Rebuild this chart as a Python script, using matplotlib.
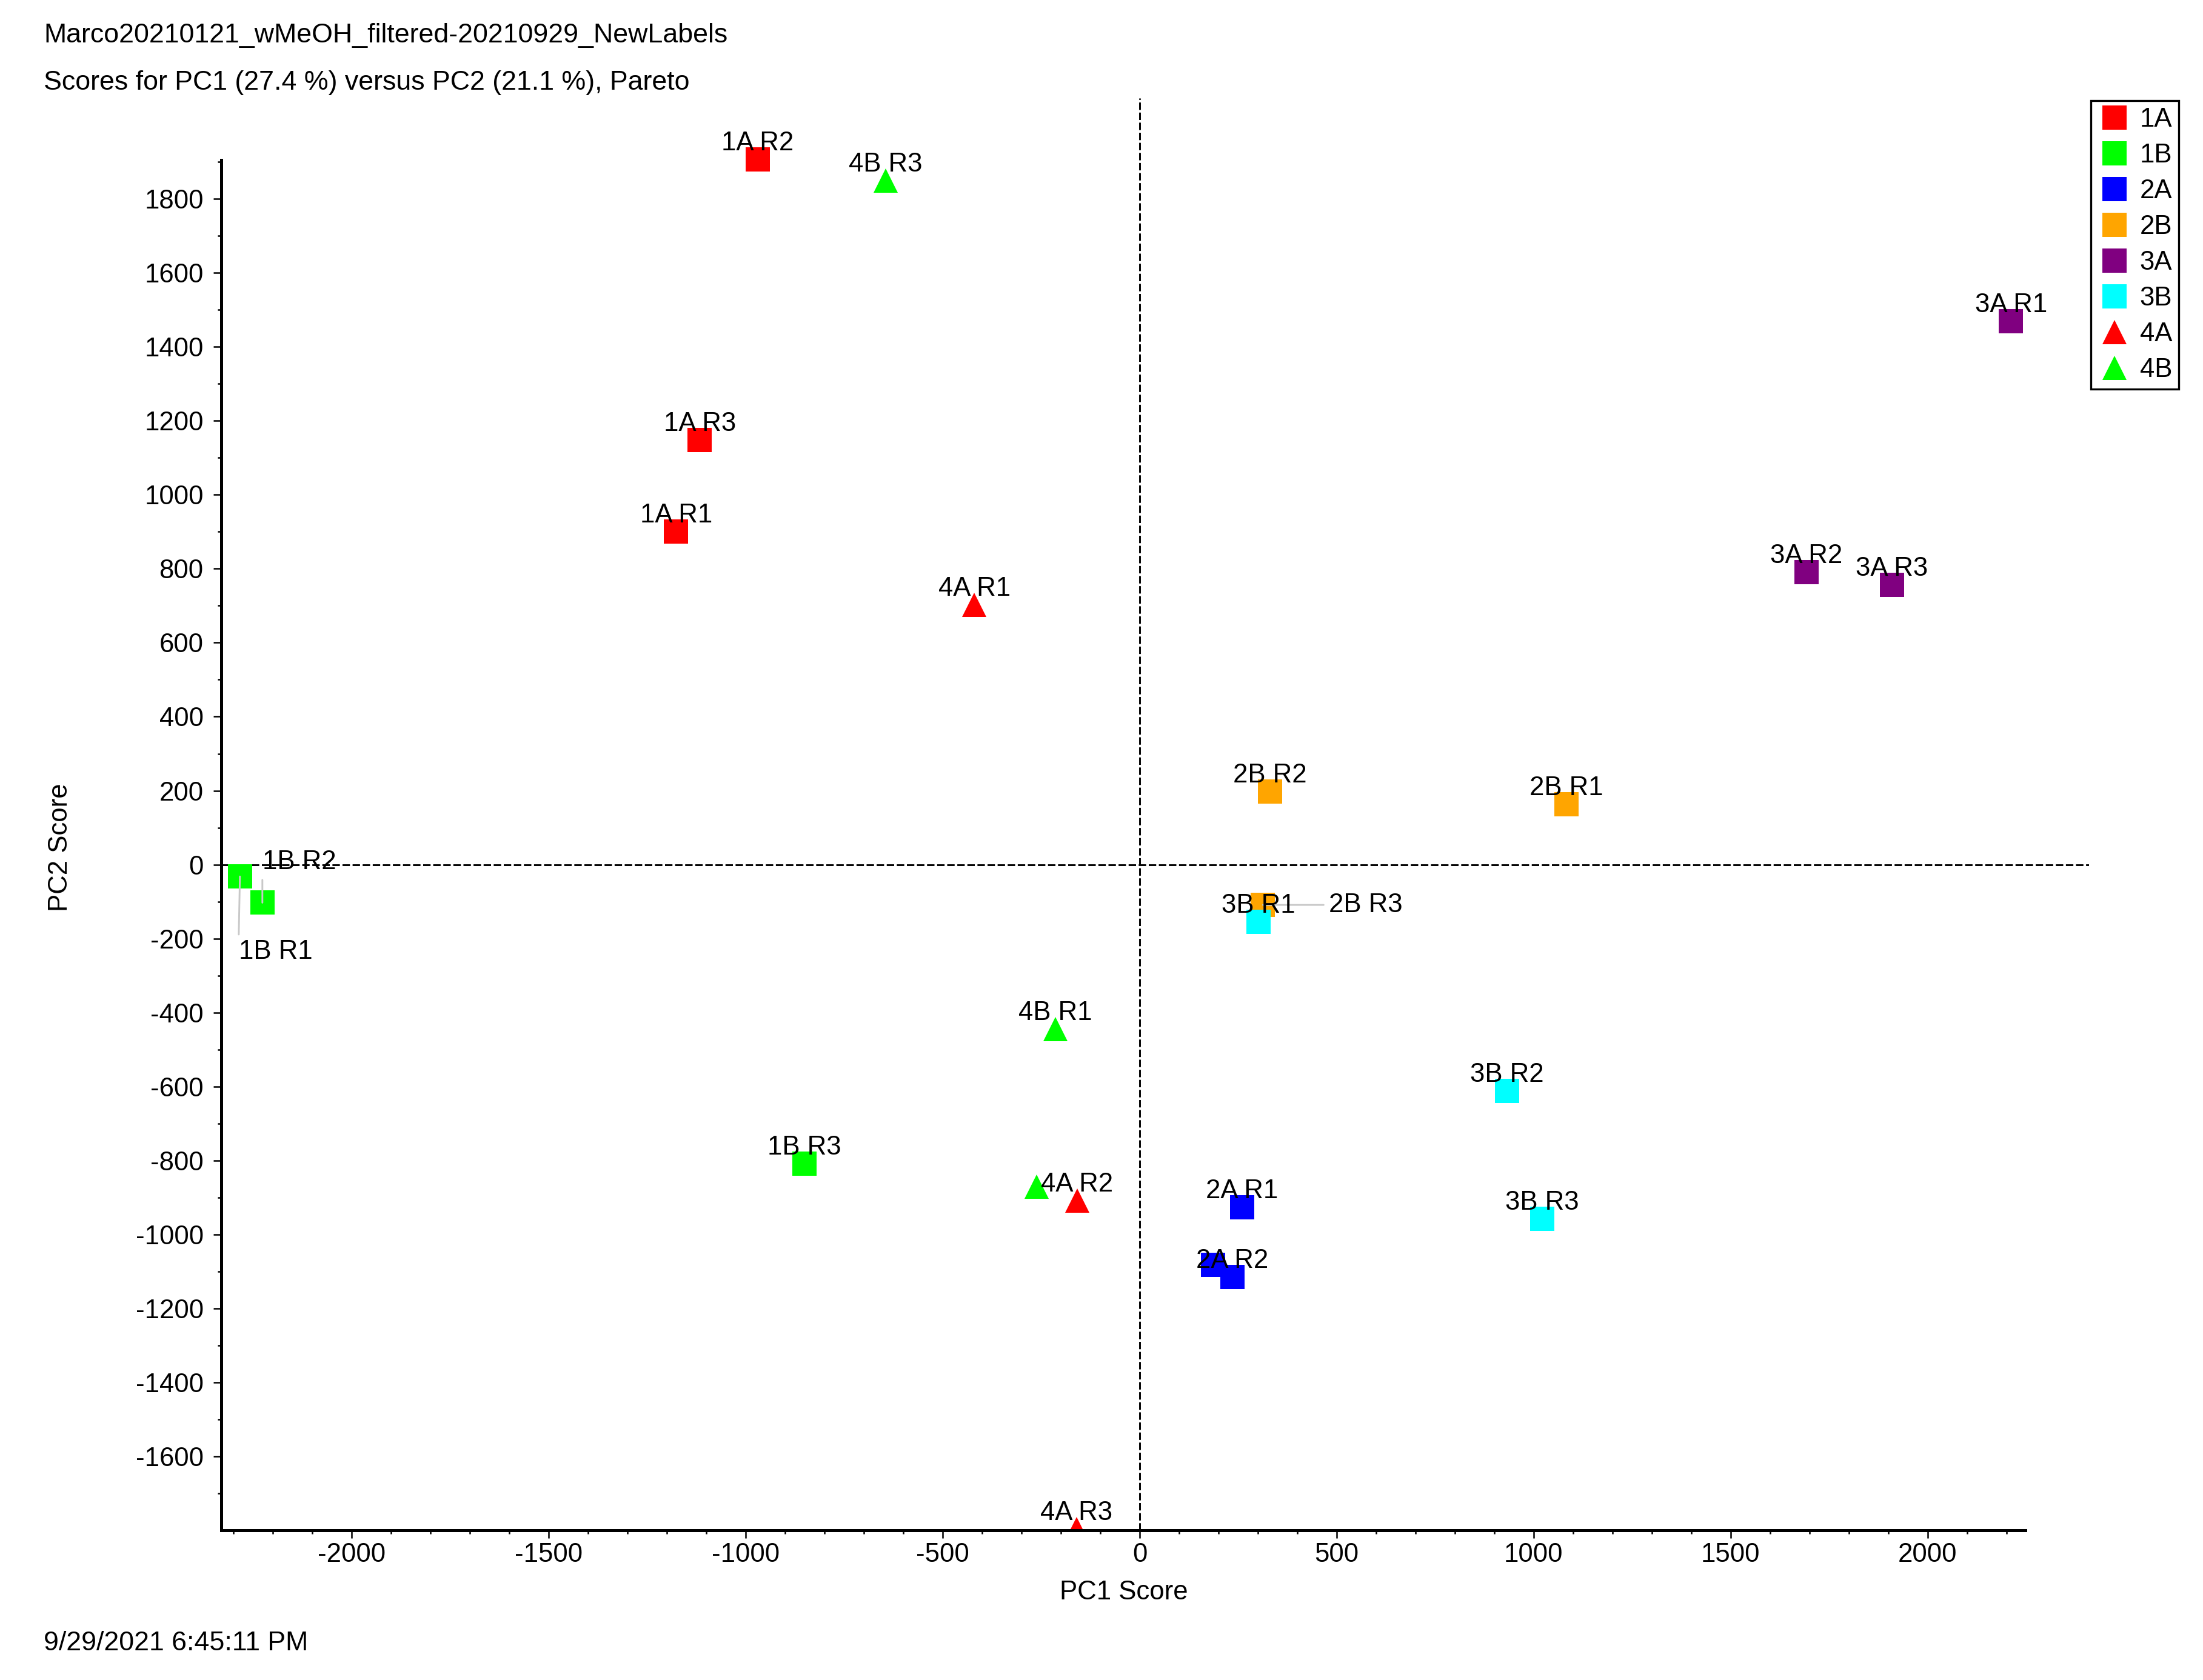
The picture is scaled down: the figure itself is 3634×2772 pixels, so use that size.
import matplotlib
matplotlib.use('Agg')
import matplotlib.pyplot as plt
from matplotlib.lines import Line2D
from matplotlib.ticker import FixedLocator
import numpy as np

plt.rcParams['font.family'] = ['Liberation Sans', 'DejaVu Sans']
plt.rcParams['font.size'] = 10.5
plt.rcParams['axes.unicode_minus'] = False

# class groups, in legend order
groups = ['1A', '1B', '2A', '2B', '3A', '3B', '4A', '4B']
group_colors = ['#ff0000', '#00ff00', '#0000ff', '#ffa500',
                '#800080', '#00ffff', '#ff0000', '#00ff00']
group_markers = ['s', 's', 's', 's', 's', 's', '^', '^']

# scores
samples = ['1A R1', '1A R2', '1A R3',
           '1B R1', '1B R2', '1B R3',
           '2A R1', '2A R2', '2A R3',
           '2B R1', '2B R2', '2B R3',
           '3A R1', '3A R2', '3A R3',
           '3B R1', '3B R2', '3B R3',
           '4A R1', '4A R2', '4A R3',
           '4B R1', '4B R2', '4B R3']
pc1 = [-1177, -970, -1117,
       -2284, -2227, -851,
       260, 235, 186,
       1083, 331, 313,
       2212, 1692, 1909,
       301, 933, 1022,
       -420, -159, -160,
       -214, -261, -645]
pc2 = [901, 1907, 1148,
       -32, -103, -809,
       -927, -1115, -1083,
       163, 198, -109,
       1470, 790, 756,
       -154, -612, -957,
       703, -909, -1796,
       -445, -871, 1850]

# labels hidden by the software (overlapping)
hidden = {'2A R3', '4B R2'}
# labels moved away from their point, with a leader line
moved = {
    '1B R1': dict(xytext=(-0.5, -25), ha='left', va='top', rel=(0, 1)),
    '1B R2': dict(xytext=(0, 13.2), ha='left', va='baseline', rel=(0, 0)),
    '2B R3': dict(xytext=(26, 0), ha='left', va='center', rel=(0, 0.5)),
}

fig = plt.figure(figsize=(3634 / 300, 2772 / 300), dpi=300)
ax = fig.add_axes([0.1005, 0.0891, 0.9483 - 0.1005, 0.9415 - 0.0891])

ax.set_xlim(-2331, 2410)
ax.set_ylim(-1800, 2072)

ax.axvline(0, color='black', lw=0.7, dashes=(4.2, 1.5), zorder=1)
ax.axhline(0, color='black', lw=0.7, dashes=(4.2, 1.5), zorder=1)

x = np.array(pc1)
y = np.array(pc2)
grp = [s.split()[0] for s in samples]
for g, c, m in zip(groups, group_colors, group_markers):
    idx = [i for i, gg in enumerate(grp) if gg == g]
    ax.plot(x[idx], y[idx], ls='none', marker=m, ms=9.5, mew=0,
            color=c, zorder=2)

for name, xi, yi in zip(samples, pc1, pc2):
    if name in hidden:
        continue
    if name in moved:
        o = moved[name]
        ax.annotate(name, (xi, yi), xytext=o['xytext'], textcoords='offset points',
                    ha=o['ha'], va=o['va'], zorder=4,
                    arrowprops=dict(arrowstyle='-', color='#c8c8c8', lw=0.7,
                                    shrinkA=0, shrinkB=0, relpos=o['rel']))
    else:
        ax.annotate(name, (xi, yi), xytext=(0, 3.6), textcoords='offset points',
                    ha='center', va='baseline', zorder=4)

# axes look
for s in ['top', 'right']:
    ax.spines[s].set_visible(False)
ax.spines['left'].set_linewidth(1.2)
ax.spines['bottom'].set_linewidth(1.2)
ax.spines['left'].set_bounds(-1800, 1905)
ax.spines['bottom'].set_bounds(-2331, 2249)

ax.xaxis.set_major_locator(FixedLocator(np.arange(-2000, 2001, 500)))
ax.xaxis.set_minor_locator(FixedLocator(np.arange(-2300, 2201, 100)))
ax.yaxis.set_major_locator(FixedLocator(np.arange(-1600, 1801, 200)))
ax.yaxis.set_minor_locator(FixedLocator(np.arange(-1700, 1901, 100)))
ax.tick_params(which='major', length=3.1, width=0.6)
ax.tick_params(which='minor', length=1.5, width=0.6)
ax.tick_params(axis='x', which='major', pad=1.7)
ax.tick_params(axis='y', which='major', pad=4)

ax.set_xlabel('PC1 Score')
ax.xaxis.set_label_coords(0.4833, -0.0347)
ax.set_ylabel('PC2 Score')
ax.yaxis.set_label_coords(-0.0795, 0.477)

handles = [Line2D([], [], ls='none', marker=m, ms=9.5, mew=0, color=c)
           for c, m in zip(group_colors, group_markers)]
leg = ax.legend(handles, groups, loc='upper left', bbox_to_anchor=(0.949, 0.940),
                bbox_transform=fig.transFigure, frameon=True, fancybox=False,
                edgecolor='black', framealpha=1, borderpad=0.25, labelspacing=0.41,
                handlelength=1.3, handletextpad=0.3, borderaxespad=0)
leg.get_frame().set_linewidth(0.8)

fig.text(0.0198, 0.979, 'Marco20210121_wMeOH_filtered-20210929_NewLabels',
         va='center', fontsize=10.75)
fig.text(0.0198, 0.9507, 'Scores for PC1 (27.4 %) versus PC2 (21.1 %), Pareto',
         va='center', fontsize=10.75)
fig.text(0.0198, 0.0217, '9/29/2021 6:45:11 PM', va='center', fontsize=10.75)

fig.savefig('out.png', dpi=300)
